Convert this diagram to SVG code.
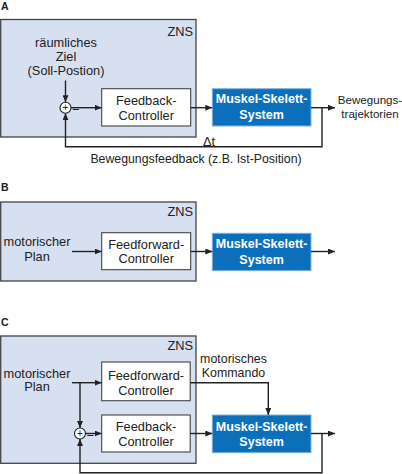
<svg xmlns="http://www.w3.org/2000/svg" width="402" height="474" viewBox="0 0 402 474">
<defs>
<marker id="ah" markerUnits="userSpaceOnUse" markerWidth="7" markerHeight="6" refX="7" refY="3" orient="auto"><path d="M0,0 L7,3 L0,6 z" fill="#222"/></marker>
<style>
text{font-family:"Liberation Sans",Arial,sans-serif;font-size:12.8px;fill:#222}
.lbl{font-weight:bold;font-size:10.5px}
.zns{fill:#d6e0f1;stroke:#444;stroke-width:1.3}
.ctl{fill:#fff;stroke:#444;stroke-width:1.1}
.msk{fill:#0b6fbb;stroke:#7fb2de;stroke-width:1}
.mt{fill:#fff;font-weight:bold;font-size:12.5px}
.c{text-anchor:middle}
.sm{font-size:11.6px}
.ln{fill:none;stroke:#222;stroke-width:1.4}
.ar{marker-end:url(#ah)}
.sum{fill:#fff;stroke:#222;stroke-width:1.1}
.pl{font-size:10px}
</style>
</defs>

<!-- Panel A -->
<text class="lbl" x="1" y="10">A</text>
<g id="zns-a"><rect class="zns" x="0.7" y="19.5" width="195.3" height="117.5"/><text x="193" y="36" text-anchor="end">ZNS</text></g>
<g id="ziel-a"><text class="c" x="66" y="47">räumliches</text><text class="c" x="66" y="60.5">Ziel</text><text class="c" x="66" y="75">(Soll-Postion)</text></g>
<g id="sum-a"><circle class="sum" cx="65.5" cy="107.7" r="5.5"/><text class="c pl" x="65.5" y="111.3">+</text><text x="72" y="114">−</text></g>
<g id="fb-a"><rect class="ctl" x="101.7" y="88.7" width="89" height="37.3"/><text class="c" x="146.2" y="104.8">Feedback-</text><text class="c" x="146.2" y="119.8">Controller</text></g>
<g id="msk-a"><rect class="msk" x="212.3" y="88.7" width="98.7" height="37.3"/><text class="mt c" x="261.6" y="103.2">Muskel-Skelett-</text><text class="mt c" x="261.6" y="118.8">System</text></g>
<g id="out-a"><text class="c sm" x="370" y="104.2">Bewegungs-</text><text class="c sm" x="370" y="117.6">trajektorien</text></g>
<g id="fbtext-a"><text x="203" y="145.5">Δt</text><text class="c" x="196" y="162.5" style="font-size:12.3px">Bewegungsfeedback (z.B. Ist-Position)</text></g>

<!-- Panel B -->
<text class="lbl" x="1" y="191">B</text>
<g id="zns-b"><rect class="zns" x="0.7" y="202" width="195.3" height="79"/><text x="193" y="216" text-anchor="end">ZNS</text></g>
<g id="plan-b"><text class="c" x="37" y="245.5">motorischer</text><text class="c" x="37" y="260.5">Plan</text></g>
<g id="ff-b"><rect class="ctl" x="101.7" y="232.7" width="89" height="37"/><text class="c" x="146.2" y="248.5">Feedforward-</text><text class="c" x="146.2" y="263">Controller</text></g>
<g id="msk-b"><rect class="msk" x="212.3" y="233.3" width="98.7" height="37.4"/><text class="mt c" x="261.6" y="248.3">Muskel-Skelett-</text><text class="mt c" x="261.6" y="263.5">System</text></g>

<!-- Panel C -->
<text class="lbl" x="1" y="325.5">C</text>
<g id="zns-c"><rect class="zns" x="0.7" y="336" width="195.3" height="127.3"/><text x="193" y="350" text-anchor="end">ZNS</text></g>
<g id="plan-c"><text class="c" x="37" y="377.5">motorischer</text><text class="c" x="37" y="391">Plan</text></g>
<g id="ff-c"><rect class="ctl" x="101.7" y="362" width="88.5" height="38.7"/><text class="c" x="146" y="379.5">Feedforward-</text><text class="c" x="146" y="395">Controller</text></g>
<g id="sum-c"><circle class="sum" cx="80" cy="433.5" r="5.5"/><text class="c pl" x="80" y="437.1">+</text><text x="86.5" y="439.5">−</text></g>
<g id="fb-c"><rect class="ctl" x="101.7" y="415" width="88.5" height="37"/><text class="c" x="146" y="430.5">Feedback-</text><text class="c" x="146" y="445.5">Controller</text></g>
<g id="msk-c"><rect class="msk" x="212.3" y="415" width="98.7" height="37.7"/><text class="mt c" x="261.6" y="430.5">Muskel-Skelett-</text><text class="mt c" x="261.6" y="446">System</text></g>
<g id="cmd-c"><text class="c" x="233.5" y="362.5" style="font-size:12.4px">motorisches</text><text class="c" x="233.5" y="376.5" style="font-size:12.4px">Kommando</text></g>

<g id="connectors">
<line class="ln ar" x1="65.5" y1="80.5" x2="65.5" y2="102.2"/>
<line class="ln ar" x1="71" y1="107.7" x2="101.7" y2="107.7"/>
<line class="ln ar" x1="190.7" y1="107.7" x2="212.3" y2="107.7"/>
<line class="ln ar" x1="311" y1="107.7" x2="335" y2="107.7"/>
<polyline class="ln ar" points="322,107.7 322,146.7 65.5,146.7 65.5,113.2"/>

<line class="ln ar" x1="72" y1="251.5" x2="101.7" y2="251.5"/>
<line class="ln ar" x1="190.7" y1="251.5" x2="212.3" y2="251.5"/>
<line class="ln ar" x1="311" y1="251.5" x2="335" y2="251.5"/>

<line class="ln ar" x1="72" y1="382.7" x2="101.7" y2="382.7"/>
<line class="ln ar" x1="80" y1="382.7" x2="80" y2="428"/>
<line class="ln ar" x1="85.5" y1="433.5" x2="101.7" y2="433.5"/>
<polyline class="ln ar" points="190.2,382.7 268.3,382.7 268.3,415"/>
<line class="ln ar" x1="190.2" y1="433.5" x2="212.3" y2="433.5"/>
<line class="ln ar" x1="311" y1="433.5" x2="335" y2="433.5"/>
<polyline class="ln ar" points="322,433.5 322,472.7 80,472.7 80,439"/>
</g>
</svg>
